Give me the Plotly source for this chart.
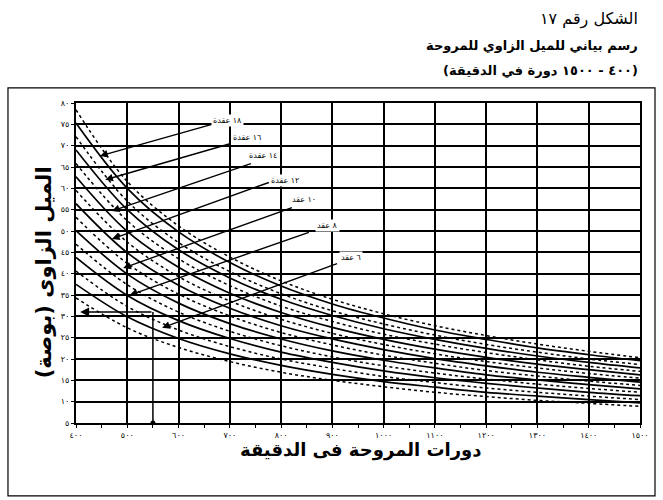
import plotly.graph_objects as go

# propeller revolutions per minute
rpm = [400, 500, 600, 700, 800, 900, 1000, 1100, 1200, 1300, 1400, 1500]

# pitch (inch) for each boat speed - solid curves
knots_18 = [75.3, 60.0, 49.8, 42.6, 37.1, 32.9, 29.6, 26.8, 24.6, 22.6, 21.0, 19.6]
knots_16 = [69.0, 55.0, 45.6, 39.0, 34.0, 30.2, 27.1, 24.6, 22.5, 20.7, 19.2, 17.9]
knots_14 = [62.7, 49.9, 41.5, 35.4, 30.9, 27.4, 24.6, 22.3, 20.4, 18.8, 17.5, 16.3]
knots_12 = [56.4, 44.9, 37.3, 31.9, 27.8, 24.7, 22.2, 20.1, 18.4, 16.9, 15.7, 14.6]
knots_10 = [50.1, 39.9, 33.1, 28.3, 24.7, 21.9, 19.7, 17.9, 16.3, 15.1, 14.0, 13.0]
knots_8 = [43.8, 34.9, 29.0, 24.8, 21.6, 19.2, 17.2, 15.6, 14.3, 13.2, 12.2, 11.4]
knots_6 = [37.5, 29.9, 24.8, 21.2, 18.5, 16.4, 14.7, 13.4, 12.2, 11.3, 10.5, 9.7]

# dotted intermediate curves
dotted_1 = [78.4, 61.6, 51.2, 43.9, 38.3, 34.0, 30.6, 27.8, 25.5, 23.5, 21.8, 20.3]
dotted_2 = [72.1, 57.0, 47.3, 40.5, 35.3, 31.3, 28.2, 25.6, 23.4, 21.6, 20.0, 18.7]
dotted_3 = [65.8, 52.4, 43.5, 37.2, 32.4, 28.8, 25.8, 23.5, 21.5, 19.8, 18.3, 17.1]
dotted_4 = [59.5, 47.4, 39.3, 33.6, 29.3, 26.0, 23.4, 21.2, 19.4, 17.9, 16.6, 15.5]
dotted_5 = [53.2, 42.4, 35.2, 30.1, 26.2, 23.3, 20.9, 19.0, 17.3, 16.0, 14.8, 13.8]
dotted_6 = [46.9, 37.4, 31.0, 26.5, 23.1, 20.5, 18.4, 16.7, 15.3, 14.1, 13.1, 12.2]
dotted_7 = [40.6, 32.3, 26.8, 22.9, 20.0, 17.8, 15.9, 14.5, 13.2, 12.2, 11.3, 10.5]
dotted_8 = [34.3, 27.3, 22.7, 19.4, 16.9, 15.0, 13.5, 12.2, 11.2, 10.3, 9.6, 8.9]

speed_labels = ['١٨ عقدة', '١٦ عقدة', '١٤ عقدة', '١٢ عقدة', '١٠ عقد', '٨ عقد', '٦ عقد']

# worked example: 550 rpm -> 31 inch
example_rpm = 550
example_pitch = 31

x_tickvals = [400, 500, 600, 700, 800, 900, 1000, 1100, 1200, 1300, 1400, 1500]
x_ticktext = ['٤٠٠', '٥٠٠', '٦٠٠', '٧٠٠', '٨٠٠', '٩٠٠', '١٠٠٠', '١١٠٠', '١٢٠٠', '١٣٠٠', '١٤٠٠', '١٥٠٠']
y_tickvals = [5, 10, 15, 20, 25, 30, 35, 40, 45, 50, 55, 60, 65, 70, 75, 80]
y_ticktext = ['٥', '١٠', '١٥', '٢٠', '٢٥', '٣٠', '٣٥', '٤٠', '٤٥', '٥٠', '٥٥', '٦٠', '٦٥', '٧٠', '٧٥', '٨٠']

AR = 'DejaVu Sans'

fig = go.Figure()

solid = [knots_18, knots_16, knots_14, knots_12, knots_10, knots_8, knots_6]
dotted = [dotted_1, dotted_2, dotted_3, dotted_4, dotted_5, dotted_6, dotted_7, dotted_8]

for d in dotted:
    fig.add_trace(go.Scatter(x=rpm, y=d, mode='lines', line=dict(color='black', width=1.5, dash='dot', shape='spline'),
                             showlegend=False, hoverinfo='skip'))
for s, lab in zip(solid, speed_labels):
    fig.add_trace(go.Scatter(x=rpm, y=s, mode='lines', name=lab, line=dict(color='black', width=1.7, shape='spline'),
                             showlegend=False))

# example read-off lines
fig.add_trace(go.Scatter(x=[example_rpm, example_rpm], y=[5, example_pitch], mode='lines',
                         line=dict(color='black', width=1.5), showlegend=False, hoverinfo='skip'))
fig.add_trace(go.Scatter(x=[example_rpm], y=[5], mode='markers', marker=dict(color='black', size=5),
                         showlegend=False, hoverinfo='skip'))
fig.add_annotation(x=408, y=example_pitch, ax=example_rpm, ay=example_pitch, xref='x', yref='y', axref='x', ayref='y',
                   showarrow=True, arrowhead=2, arrowsize=1.2, arrowwidth=1.5, arrowcolor='black', text='')

# speed labels with pointer arrows
heads = [(447, 67.6), (457, 62.0), (470, 54.7), (470, 48.1), (492, 41.3), (505, 35.0), (568, 27.3)]
tails = [(668, 75.1), (705, 70.6), (744, 65.9), (779, 61.5), (824, 55.6), (857, 49.8), (912, 42.5)]
label_pos = [(695, 76.0), (733, 72.0), (764, 67.6), (808, 61.8), (844, 57.3), (890, 51.2), (937, 43.9)]
for (hx, hy), (tx, ty), (lx, ly), lab in zip(heads, tails, label_pos, speed_labels):
    fig.add_annotation(x=hx, y=hy, ax=tx, ay=ty, xref='x', yref='y', axref='x', ayref='y',
                       showarrow=True, arrowhead=2, arrowsize=1.1, arrowwidth=1.4, arrowcolor='black', text='')
    fig.add_annotation(x=lx, y=ly, xref='x', yref='y', text=lab, showarrow=False,
                       font=dict(family=AR, size=8, color='black'), bgcolor='white', borderpad=1)

# titles
fig.add_annotation(x=1.0, y=1.262, xref='paper', yref='paper', xanchor='right', yanchor='middle', showarrow=False,
                   text='الشكل رقم ١٧', font=dict(family=AR, size=16, color='black'))
fig.add_annotation(x=1.0, y=1.181, xref='paper', yref='paper', xanchor='right', yanchor='middle', showarrow=False,
                   text='<b>رسم بياني للميل الزاوي للمروحة</b>', font=dict(family=AR, size=13, color='black'))
fig.add_annotation(x=1.0, y=1.100, xref='paper', yref='paper', xanchor='right', yanchor='middle', showarrow=False,
                   text='<b>(٤٠٠ - ١٥٠٠ دورة في الدقيقة)</b>', font=dict(family=AR, size=13, color='black'))

# axis titles
fig.add_annotation(x=0.504, y=-0.125, xref='paper', yref='paper', showarrow=False,
                   text='<b>دورات المروحة فى الدقيقة</b>', font=dict(family=AR, size=18, color='black'))
fig.add_annotation(x=-0.082, y=0.47, xref='paper', yref='paper', showarrow=False, textangle=-90,
                   text='<b>الميل الزاوى (بوصة)</b>', font=dict(family=AR, size=21, color='black'))

# outer frame
fig.add_shape(type='rect', xref='paper', yref='paper', x0=-0.1206, x1=1.0266, y0=-0.228, y1=1.047,
              line=dict(color='black', width=1.2))

fig.update_layout(
    width=663, height=500,
    margin=dict(l=76, r=23, t=103, b=77),
    paper_bgcolor='white', plot_bgcolor='white',
    xaxis=dict(range=[400, 1500], tickvals=x_tickvals, ticktext=x_ticktext, showgrid=True, gridcolor='black',
               gridwidth=2, showline=True, linecolor='black', linewidth=2, mirror=True, zeroline=False,
               ticks='outside', ticklen=3, tickcolor='black', tickfont=dict(family=AR, size=8, color='black'),
               minor=dict(dtick=50, ticks='outside', ticklen=3, tickcolor='black', showgrid=False)),
    yaxis=dict(range=[5, 80], tickvals=y_tickvals, ticktext=y_ticktext, showgrid=True, gridcolor='black',
               gridwidth=2, showline=True, linecolor='black', linewidth=2, mirror=True, zeroline=False,
               ticks='outside', ticklen=3, tickcolor='black', tickfont=dict(family=AR, size=8, color='black')),
)

fig.write_html("out.html", config={'displayModeBar': False}, post_script="document.body.style.margin='0';")
